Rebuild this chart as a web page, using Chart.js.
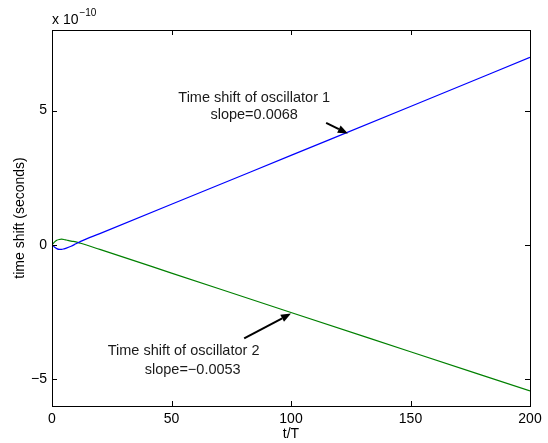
<!DOCTYPE html>
<html><head><meta charset="utf-8">
<script src="https://cdn.jsdelivr.net/npm/chart.js@4.4.1/dist/chart.umd.min.js"></script>
<style>html,body{margin:0;padding:0;background:#fff}#c{display:block}</style>
</head><body>
<canvas id="c" width="548" height="443"></canvas>
<script>
// values in units of 1e-10 seconds
const osc1X = [0, 1, 2, 3, 4, 5, 6, 8, 10, 12, 20, 50, 100, 150, 200];
const osc1Y = [0, -0.08, -0.14, -0.17, -0.17, -0.15, -0.12, -0.05, 0.04, 0.13, 0.42, 1.51, 3.33, 5.15, 6.98];
const osc2X = [0, 1, 2, 3, 4, 5, 6, 8, 10, 12, 20, 50, 100, 150, 200];
const osc2Y = [0, 0.1, 0.17, 0.2, 0.21, 0.2, 0.18, 0.14, 0.11, 0.06, -0.17, -1.05, -2.52, -3.98, -5.44];
const xTicks = [0, 50, 100, 150, 200];
const yTicks = [-5, 0, 5];
const annot1Lines = ["Time shift of oscillator 1", "slope=0.0068"];
const annot2Lines = ["Time shift of oscillator 2", "slope=\u22120.0053"];

const FONT = "'Liberation Sans', Arial, Helvetica, sans-serif";

const pts = (xs, ys) => xs.map((x, i) => ({x, y: ys[i]}));

const decor = {
  id: 'decor',
  afterDraw(chart) {
    const {ctx, chartArea: a, scales: {x, y}} = chart;
    ctx.save();
    ctx.strokeStyle = '#000';
    ctx.lineWidth = 1;
    ctx.strokeRect(a.left + 0.5, a.top + 0.5, a.right - a.left, a.bottom - a.top);
    const L = 5;
    ctx.beginPath();
    xTicks.forEach(v => {
      const px = Math.round(x.getPixelForValue(v)) + 0.5;
      ctx.moveTo(px, a.bottom); ctx.lineTo(px, a.bottom - L);
      ctx.moveTo(px, a.top); ctx.lineTo(px, a.top + L);
    });
    yTicks.forEach(v => {
      const py = Math.round(y.getPixelForValue(v)) + 0.5;
      ctx.moveTo(a.left, py); ctx.lineTo(a.left + L, py);
      ctx.moveTo(a.right, py); ctx.lineTo(a.right - L, py);
    });
    ctx.stroke();

    // exponent label
    ctx.fillStyle = '#000';
    ctx.font = '14px ' + FONT;
    ctx.textBaseline = 'alphabetic';
    ctx.textAlign = 'left';
    ctx.fillText('x 10', a.left, a.top - 6);
    const w = ctx.measureText('x 10').width;
    ctx.font = '10px ' + FONT;
    ctx.fillText('\u221210', a.left + w + 1, a.top - 14);

    // annotations
    ctx.font = '14.5px ' + FONT;
    ctx.fillStyle = '#1a1a1a';
    ctx.textBaseline = 'middle';
    ctx.textAlign = 'center';
    const t1x = x.getPixelForValue(84.6);
    ctx.fillText(annot1Lines[0], t1x, y.getPixelForValue(5.48));
    ctx.fillText(annot1Lines[1], t1x, y.getPixelForValue(4.82));
    ctx.textAlign = 'left';
    ctx.fillText(annot2Lines[0], x.getPixelForValue(23.3), y.getPixelForValue(-3.96));
    ctx.fillText(annot2Lines[1], x.getPixelForValue(38.8), y.getPixelForValue(-4.65));

    const arrow = (x0, y0, x1, y1) => {
      const X0 = x.getPixelForValue(x0), Y0 = y.getPixelForValue(y0);
      const X1 = x.getPixelForValue(x1), Y1 = y.getPixelForValue(y1);
      ctx.strokeStyle = '#000'; ctx.fillStyle = '#000'; ctx.lineWidth = 2;
      const ang = Math.atan2(Y1 - Y0, X1 - X0);
      const hl = 10, hw = 4;
      const bx = X1 - hl * Math.cos(ang), by = Y1 - hl * Math.sin(ang);
      ctx.beginPath(); ctx.moveTo(X0, Y0); ctx.lineTo(bx, by); ctx.stroke();
      ctx.beginPath();
      ctx.moveTo(X1, Y1);
      ctx.lineTo(bx + hw * Math.sin(ang), by - hw * Math.cos(ang));
      ctx.lineTo(bx - hw * Math.sin(ang), by + hw * Math.cos(ang));
      ctx.closePath(); ctx.fill();
    };
    arrow(114.7, 4.54, 123.8, 4.15);
    arrow(80.4, -3.48, 100, -2.56);
    ctx.restore();
  }
};

new Chart(document.getElementById('c'), {
  type: 'scatter',
  data: {
    datasets: [
      {data: pts(osc1X, osc1Y), showLine: true, borderColor: '#0000ff', borderWidth: 1.2, pointRadius: 0, tension: 0.3, cubicInterpolationMode: 'monotone'},
      {data: pts(osc2X, osc2Y), showLine: true, borderColor: '#008000', borderWidth: 1.2, pointRadius: 0, tension: 0.3, cubicInterpolationMode: 'monotone'}
    ]
  },
  options: {
    responsive: false,
    animation: false,
    layout: {padding: {top: 30, right: 18, left: 0, bottom: 0}},
    plugins: {legend: {display: false}, tooltip: {enabled: false}},
    scales: {
      x: {
        type: 'linear', min: 0, max: 200,
        afterBuildTicks: s => { s.ticks = xTicks.map(v => ({value: v})); },
        afterFit: s => { s.height = 37; },
        grid: {display: false, drawTicks: false},
        border: {display: false},
        ticks: {color: '#000', padding: 5, maxRotation: 0, font: {family: FONT, size: 14}},
        title: {display: true, text: 't/T', color: '#000', padding: {top: 0, bottom: 0}, font: {family: FONT, size: 14}}
      },
      y: {
        type: 'linear', min: -6, max: 8,
        afterBuildTicks: s => { s.ticks = yTicks.map(v => ({value: v})); },
        afterFit: s => { s.width = 52; },
        grid: {display: false, drawTicks: false},
        border: {display: false},
        ticks: {color: '#000', padding: 5, font: {family: FONT, size: 14},
          callback: v => v < 0 ? '\u2212' + Math.abs(v) : String(v)},
        title: {display: true, text: 'time shift (seconds)', color: '#000', padding: {top: 12, bottom: 0}, font: {family: FONT, size: 14}}
      }
    }
  },
  plugins: [decor]
});
</script>
</body></html>
